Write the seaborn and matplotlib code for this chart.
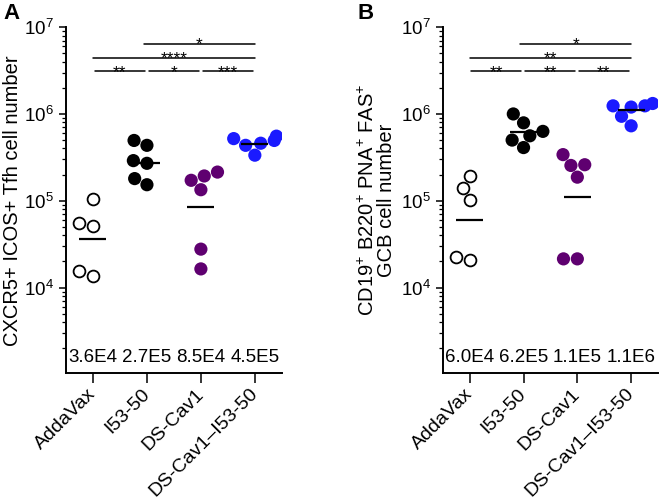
import numpy as np
import pandas as pd
import seaborn as sns
import matplotlib.pyplot as plt

# groups (x categories)
groups = ["AddaVax", "I53-50", "DS-Cav1", "DS-Cav1\u2013I53-50"]
colors = {"AddaVax": "white", "I53-50": "black", "DS-Cav1": "#5f0070",
          "DS-Cav1\u2013I53-50": "#1a1aff"}

# panel A: CXCR5+ ICOS+ Tfh cell number
tfh_addavax = [5.5e4, 1.04e5, 5.1e4, 1.37e4, 1.54e4]
tfh_i53 = [2.9e5, 4.35e5, 4.95e5, 2.7e5, 1.8e5, 1.53e5]
tfh_dscav1 = [1.93e5, 2.14e5, 1.72e5, 1.34e5, 2.77e4, 1.64e4]
tfh_dscav1_i53 = [5.55e5, 4.35e5, 4.6e5, 5.2e5, 4.95e5, 3.35e5]
tfh_mean_labels = ["3.6E4", "2.7E5", "8.5E4", "4.5E5"]
tfh_sig = [(0, 1, "**", 0), (1, 2, "*", 0), (2, 3, "***", 0),
           (0, 3, "****", 1), (1, 3, "*", 2)]

# panel B: CD19+ B220+ PNA+ FAS+ GCB cell number
gcb_addavax = [1.95e5, 1.42e5, 1.03e5, 2.05e4, 2.25e4]
gcb_i53 = [1.0e6, 7.9e5, 5.6e5, 6.3e5, 5.0e5, 4.1e5]
gcb_dscav1 = [3.4e5, 2.6e5, 2.55e5, 1.87e5, 2.14e4, 2.14e4]
gcb_dscav1_i53 = [1.2e6, 1.24e6, 1.24e6, 1.32e6, 9.4e5, 7.3e5]
gcb_mean_labels = ["6.0E4", "6.2E5", "1.1E5", "1.1E6"]
gcb_sig = [(0, 1, "**", 0), (1, 2, "**", 0), (2, 3, "**", 0),
           (0, 3, "**", 1), (1, 3, "*", 2)]

sig_rows = [3.1e6, 4.45e6, 6.4e6]

sns.set_style("ticks")
plt.rcParams['font.family'] = ['Liberation Sans', 'DejaVu Sans']
plt.rcParams['mathtext.default'] = 'regular'
for key in ["text.color", "axes.labelcolor", "xtick.color", "ytick.color",
            "axes.edgecolor"]:
    plt.rcParams[key] = "black"


def make_df(values):
    rows = []
    for g, vals in zip(groups, values):
        for v in vals:
            rows.append({"group": g, "value": v})
    return pd.DataFrame(rows)


def draw_panel(ax, values, mean_labels, sig, ylabel, label_x):
    df = make_df(values)
    open_df = df[df["group"] == "AddaVax"]
    fill_df = df[df["group"] != "AddaVax"]
    sns.swarmplot(data=fill_df, x="group", y="value", order=groups,
                  hue="group", hue_order=groups, palette=colors,
                  size=9.5, linewidth=0, legend=False, log_scale=True, ax=ax)
    sns.swarmplot(data=open_df, x="group", y="value", order=groups,
                  color="white", edgecolor="black", linewidth=1.3,
                  size=8.5, log_scale=True, ax=ax)

    means = [float(s) for s in mean_labels]
    pos = np.arange(len(groups))
    ax.hlines(means, pos - 0.25, pos + 0.25, color="black", lw=1.6, zorder=5)

    for i, s in enumerate(mean_labels):
        ax.text(i, 1.55e3, s, ha="center", va="center", fontsize=13.5)

    for i, j, star, row in sig:
        y = sig_rows[row]
        x0, x1 = i, j
        if row == 0:
            x0, x1 = i + 0.03, j - 0.04
        if row == 2:
            x0 = i - 0.06
        ax.plot([x0, x1], [y, y], color="black", lw=1.1, clip_on=False)
        ax.annotate(star, xy=((x0 + x1) / 2, y), xytext=(0, -6),
                    textcoords="offset points", ha="center", va="bottom",
                    fontsize=12.5)

    ax.set_ylim(1.03e3, 1e7)
    ax.set_xlim(-0.5, 3.5)
    ax.set_xlabel("")
    ax.set_ylabel(ylabel, fontsize=14.5, linespacing=0.9)
    ax.yaxis.set_label_coords(label_x, 0.5)
    ax.set_xticks(pos)
    ax.set_xticklabels(groups, rotation=45, ha="right", va="center",
                       rotation_mode="anchor", fontsize=14)
    ax.tick_params(axis="y", which="major", length=5, width=1.1, labelsize=13.5)
    ax.tick_params(axis="y", which="minor", length=3, width=0.9)
    ax.tick_params(axis="x", length=7, width=1.1, pad=6)
    for sp in ["left", "bottom"]:
        ax.spines[sp].set_linewidth(1.4)
    sns.despine(ax=ax)


fig = plt.figure(figsize=(6.6, 5.03), dpi=100)
ax_a = fig.add_axes([0.1, 0.258, 0.327, 0.688])
ax_b = fig.add_axes([0.671, 0.258, 0.326, 0.688])

draw_panel(ax_a, [tfh_addavax, tfh_i53, tfh_dscav1, tfh_dscav1_i53],
           tfh_mean_labels, tfh_sig, "CXCR5+ ICOS+ Tfh cell number", -0.205)
draw_panel(ax_b, [gcb_addavax, gcb_i53, gcb_dscav1, gcb_dscav1_i53],
           gcb_mean_labels, gcb_sig,
           "CD19$^{+}$ B220$^{+}$ PNA$^{+}$ FAS$^{+}$\nGCB cell number", -0.22)

fig.text(0.005, 0.995, "A", fontsize=16, fontweight="bold", va="top")
fig.text(0.541, 0.995, "B", fontsize=16, fontweight="bold", va="top")

fig.savefig("out.png", dpi=100)
